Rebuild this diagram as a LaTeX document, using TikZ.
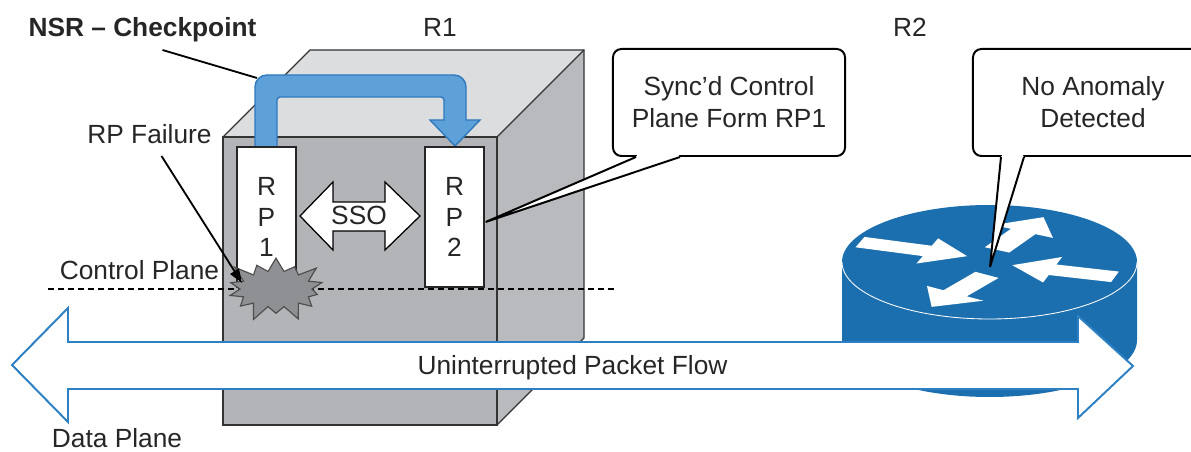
\documentclass[tikz,border=0pt]{standalone}
\usepackage{fontspec}
\setmainfont{Liberation Sans}
\usepackage{tikz}
\usetikzlibrary{arrows.meta,shapes.symbols}

\definecolor{frontgray}{HTML}{B3B4B7}
\definecolor{topgray}{HTML}{DCDDDF}
\definecolor{sidegray}{HTML}{B9BABD}
\definecolor{burstgray}{HTML}{8E9093}
\definecolor{chkblue}{HTML}{5EA1D8}
\definecolor{chkedge}{HTML}{2F79BD}
\definecolor{ciscoblue}{HTML}{1C6FAF}
\definecolor{flowedge}{HTML}{2C80C3}

% white arrow on the router lid: tail x, tail y, angle, length
\newcommand{\rtrarrow}[4]{%
  \fill[white,shift={(#1,#2)},rotate=#3] (0,-14) -- (#4-42,-14) -- (#4-42,-34) -- (#4,0) -- (#4-42,34) -- (#4-42,14) -- (0,14) -- cycle;}

\begin{document}
\begin{tikzpicture}[x=0.025cm,y=-0.025cm,
  lbl/.style={font=\fontsize{18.7}{22}\selectfont,text=black!85,inner sep=0pt},
  boxline/.style={draw=black!80,line width=0.9pt},
  rpbox/.style={draw=black!85,fill=white,line width=0.9pt,minimum width=1.475cm,minimum height=3.5cm,
    align=center,font=\fontsize{18.7}{22}\selectfont,text=black!85,inner sep=0pt},
  callout/.style={draw,fill=white,line width=1.4pt,rounded corners=6pt,minimum height=2.675cm,
    align=center,font=\fontsize{18.7}{22.7}\selectfont,text=black!85},
  pointer/.style={line width=1.3pt}]
\useasboundingbox (0,0) rectangle (1191,452);
\clip (0,0) rectangle (1191,452);

% R1 chassis
\fill[frontgray] (223,137) rectangle (497,425);
\fill[topgray] (223,137) -- (310,50) -- (584,50) -- (497,137) -- cycle;
\fill[sidegray] (497,137) -- (584,50) -- (584,338) -- (497,425) -- cycle;
\draw[boxline] (223,137) rectangle (497,425);
\draw[boxline] (223,137) -- (310,50) -- (584,50) -- (584,338) -- (497,425);
\draw[boxline] (497,137) -- (584,50);

% checkpoint arrow RP1 -> RP2
\draw[fill=chkblue,draw=chkedge,line width=1pt] (255,147) -- (255,87) arc[start angle=180,end angle=270,radius=12]
  -- (454,75) arc[start angle=270,end angle=360,radius=12] -- (466,120) -- (480,120) -- (455,146) -- (430,120)
  -- (444,120) -- (444,100) arc[start angle=0,end angle=-90,radius=3] -- (280,97)
  arc[start angle=270,end angle=180,radius=3] -- (277,147) -- cycle;
\coordinate (chk) at (257,78);

\node[rpbox] (rp1) at (266.5,217) {R\\P\\1};
\node[rpbox] (rp2) at (454.5,217) {R\\P\\2};

\draw[fill=white,line width=0.9pt] (300,216) -- (333,182) -- (333,202) -- (385,202) -- (385,182) -- (420,216)
  -- (385,250) -- (385,231) -- (333,231) -- (333,250) -- cycle;
\node[lbl,anchor=base] (sso) at (359,225) {SSO};

\draw[black,line width=1.6pt,dash pattern=on 0.15cm off 0.1cm] (48,289) -- (617,289);
\node[starburst,starburst points=14,starburst point height=0.45cm,minimum width=2.7cm,minimum height=1.8cm,
  fill=burstgray,draw=black!70,line width=0.8pt] (burst) at (276,289) {};

\node[lbl,anchor=base] (fail) at (149.5,144) {RP Failure};
\draw[pointer,-{Triangle[length=0.35cm,width=0.25cm]}] ([shift={(12,12)}]fail.base) -- ([shift={(-34,-6)}]burst.center);

% R2
\fill[ciscoblue] (842,262) -- (842,340) arc[start angle=180,end angle=0,x radius=147.5,y radius=57] -- (1137,262) -- cycle;
\fill[ciscoblue] (989.5,262) ellipse[x radius=147.5,y radius=57];
\draw[white,line width=0.6pt] (842,262) arc[start angle=180,end angle=0,x radius=147.5,y radius=57];
\begin{scope}[shift={(989.5,262)},yscale=0.39]
  \rtrarrow{-129.5}{-51}{-18.6}{113}
  \rtrarrow{7.5}{-31}{61}{96}
  \rtrarrow{125.5}{38}{163.8}{107}
  \rtrarrow{-2.5}{33}{-124}{99}
\end{scope}
\coordinate (rtr) at (990,267);

% data plane
\draw[fill=white,draw=flowedge,line width=1.4pt] (12,365) -- (68,308) -- (68,342) -- (1078,342) -- (1078,316)
  -- (1133,366) -- (1078,418) -- (1078,389) -- (68,389) -- (68,422) -- cycle;
\node[lbl,anchor=base] (flow) at (572.5,374) {Uninterrupted Packet Flow};

\node[callout,minimum width=5.8cm] (sync) at (729,102.5) {Sync'd Control\\Plane Form RP1};
\fill[white] ([shift={(24,0)}]sync.south west) -- ([shift={(1,5)}]rp2.east) -- ([shift={(68,0)}]sync.south west)
  -- ([shift={(66,-3)}]sync.south west) -- ([shift={(26,-3)}]sync.south west) -- cycle;
\draw[line width=1.4pt] ([shift={(24,0)}]sync.south west) -- ([shift={(1,5)}]rp2.east) -- ([shift={(68,0)}]sync.south west);

\node[callout,minimum width=6cm] (anom) at (1093,102.5) {No Anomaly\\Detected};
\fill[white] ([shift={(29,0)}]anom.south west) -- (rtr) -- ([shift={(52,0)}]anom.south west)
  -- ([shift={(50,-3)}]anom.south west) -- ([shift={(31,-3)}]anom.south west) -- cycle;
\draw[line width=1.4pt] ([shift={(29,0)}]anom.south west) -- (rtr) -- ([shift={(52,0)}]anom.south west);

\node[lbl,anchor=base,font=\fontsize{18.7}{22}\selectfont\bfseries] (nsr) at (142.5,37) {NSR \textendash{} Checkpoint};
\draw[pointer] ([shift={(20,13)}]nsr.base) -- (chk);
\node[lbl,anchor=base] (r1) at (440,37) {R1};
\node[lbl,anchor=base] (r2) at (910,37) {R2};
\node[lbl,anchor=base] (cpl) at (139.5,280) {Control Plane};
\node[lbl,anchor=base] (dpl) at (117,447) {Data Plane};
\end{tikzpicture}
\end{document}
